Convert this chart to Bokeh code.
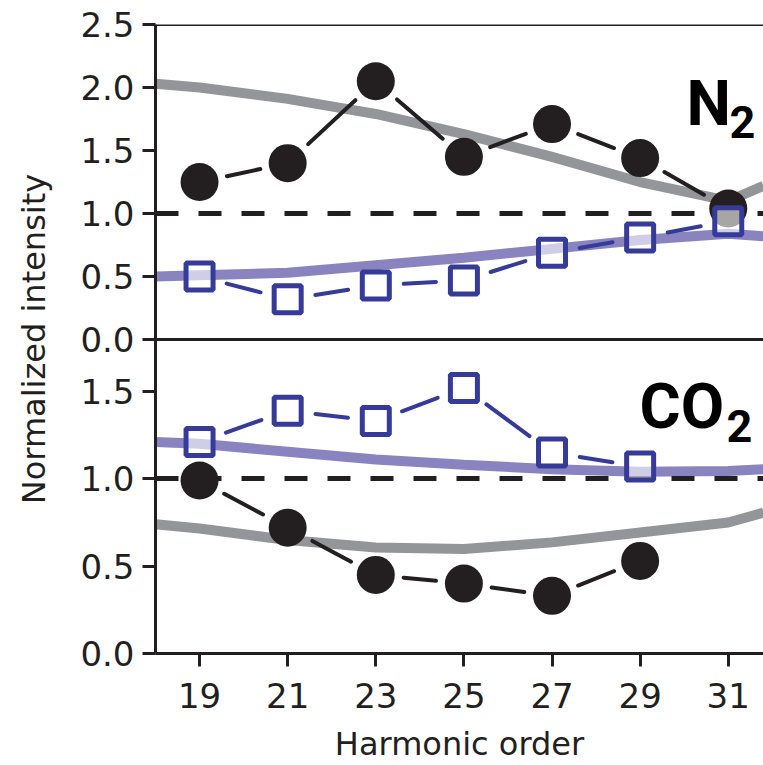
from math import hypot

from bokeh.plotting import figure
from bokeh.models import Range1d, FixedTicker, PrintfTickFormatter, LinearAxis, Label, ColumnDataSource
from bokeh.embed import file_html
from bokeh.resources import INLINE

# ---- data -----------------------------------------------------------------
harmonic_order = [19, 21, 23, 25, 27, 29, 31]
n2_parallel = [1.25, 1.40, 2.05, 1.45, 1.71, 1.44, 1.04]
n2_perpendicular = [0.50, 0.32, 0.43, 0.47, 0.69, 0.81, 0.94]

co2_order = [19, 21, 23, 25, 27, 29]
co2_parallel = [0.99, 0.72, 0.45, 0.40, 0.33, 0.53]
co2_perpendicular = [1.21, 1.39, 1.33, 1.52, 1.15, 1.07]

theory_order = [18, 19, 21, 23, 25, 27, 29, 31, 31.8]
n2_theory_parallel = [2.03, 2.00, 1.91, 1.79, 1.63, 1.45, 1.25, 1.10, 1.22]
n2_theory_perpendicular = [0.50, 0.51, 0.53, 0.59, 0.65, 0.72, 0.79, 0.84, 0.82]
co2_theory_parallel = [0.74, 0.715, 0.65, 0.607, 0.598, 0.636, 0.693, 0.75, 0.806]
co2_theory_perpendicular = [1.21, 1.20, 1.155, 1.11, 1.08, 1.055, 1.04, 1.045, 1.055]

reference_level = [1.0]
x_ticks = [19, 21, 23, 25, 27, 29, 31]
n2_y_ticks = [0.0, 0.5, 1.0, 1.5, 2.0, 2.5]
co2_y_ticks = [0.0, 0.5, 1.0, 1.5]

# ---- geometry / style -----------------------------------------------------
WIDTH, HEIGHT = 763, 765
BORDER_LEFT, BORDER_TOP, BORDER_BOTTOM = 155, 24, 108
FRAME_W = WIDTH - BORDER_LEFT
FRAME_H = HEIGHT - BORDER_TOP - BORDER_BOTTOM

X_START, X_END = 18.0, 31.8
N2_START, N2_END = -2.49, 2.5          # upper panel occupies 0 .. 2.5
CO2_START, CO2_END = 0.0, 3.6          # lower panel occupies 0 .. split

INK = "#231f20"
BLUE = "#363a98"
PURPLE = "#8984c0"
GRAY = "#939598"
FONT = "DejaVu Sans"

px_x = FRAME_W / (X_END - X_START)
px_n2 = FRAME_H / (N2_END - N2_START)
px_co2 = FRAME_H / (CO2_END - CO2_START)


def co2_on_main_axis(v):
    """Position of a CO2-panel value expressed on the main (N2) vertical range."""
    return N2_START + (v - CO2_START) / (CO2_END - CO2_START) * (N2_END - N2_START)


def gapped_segments(xs, ys, py, gap=28.0):
    """Connector segments between markers, trimmed by `gap` screen pixels at each end."""
    out = dict(x0=[], y0=[], x1=[], y1=[])
    for xa, ya, xb, yb in zip(xs[:-1], ys[:-1], xs[1:], ys[1:]):
        length = hypot((xb - xa) * px_x, (yb - ya) * py)
        f = gap / length
        out["x0"].append(xa + (xb - xa) * f)
        out["y0"].append(ya + (yb - ya) * f)
        out["x1"].append(xb - (xb - xa) * f)
        out["y1"].append(yb - (yb - ya) * f)
    return ColumnDataSource(out)


def style_axis(ax, tick_out=13):
    ax.axis_line_color = INK
    ax.axis_line_width = 3
    ax.major_tick_line_color = INK
    ax.major_tick_line_width = 3
    ax.major_tick_out = tick_out
    ax.major_tick_in = 0
    ax.minor_tick_out = 0
    ax.minor_tick_in = 0
    ax.major_label_text_font = FONT
    ax.major_label_text_font_size = "34px"
    ax.major_label_text_color = INK
    ax.axis_label_text_font = FONT
    ax.axis_label_text_font_size = "32px"
    ax.axis_label_text_font_style = "normal"
    ax.axis_label_text_color = INK


p = figure(
    width=WIDTH, height=HEIGHT,
    x_range=Range1d(X_START, X_END), y_range=Range1d(N2_START, N2_END),
    x_axis_type=None, y_axis_type=None,
    min_border_left=BORDER_LEFT, min_border_right=0,
    min_border_top=BORDER_TOP, min_border_bottom=BORDER_BOTTOM,
    toolbar_location=None, output_backend="svg",
    outline_line_color=None, background_fill_color="white",
)
p.extra_y_ranges = {"co2": Range1d(CO2_START, CO2_END)}

# ---- axes -----------------------------------------------------------------
# One vertical axis carries the ticks of both panels; the lower panel's ticks
# are placed through the CO2 range and labelled with their own values.
co2_tick_pos = [co2_on_main_axis(v) for v in co2_y_ticks]
y_axis = LinearAxis(
    ticker=FixedTicker(ticks=co2_tick_pos + n2_y_ticks),
    formatter=PrintfTickFormatter(format="%.1f"),
    major_label_overrides={pos: f"{v:.1f}" for pos, v in zip(co2_tick_pos, co2_y_ticks)},
    axis_label="Normalized intensity",
)
style_axis(y_axis)
y_axis.major_label_standoff = 8
y_axis.axis_label_standoff = 24
p.add_layout(y_axis, "left")

x_axis = LinearAxis(ticker=FixedTicker(ticks=x_ticks), axis_label="Harmonic order")
style_axis(x_axis)
x_axis.major_label_standoff = 16
x_axis.axis_label_standoff = 14
p.add_layout(x_axis, "below")

# panel separator and top frame edge
mid_line = LinearAxis(ticker=FixedTicker(ticks=[]), fixed_location=0)
style_axis(mid_line, tick_out=0)
p.add_layout(mid_line, "below")
top_line = LinearAxis(ticker=FixedTicker(ticks=[]), fixed_location=N2_END)
style_axis(top_line, tick_out=0)
p.add_layout(top_line, "above")

# ---- theory curves ----------------------------------------------------------
p.line(theory_order, n2_theory_parallel, line_color=GRAY, line_width=10)
p.line(theory_order, n2_theory_perpendicular, line_color=PURPLE, line_width=10)
p.line(theory_order, co2_theory_parallel, line_color=GRAY, line_width=10, y_range_name="co2")
p.line(theory_order, co2_theory_perpendicular, line_color=PURPLE, line_width=10, y_range_name="co2")

# ---- unity reference lines -----------------------------------------------------
p.hspan(y=reference_level, line_color=INK, line_width=5, line_dash="23 20")
p.hspan(y=reference_level, line_color=INK, line_width=5, line_dash="23 20", y_range_name="co2")

# ---- experiment: connectors ----------------------------------------------------
seg_kw = dict(x0="x0", y0="y0", x1="x1", y1="y1", line_width=4, line_cap="round")
p.segment(source=gapped_segments(harmonic_order, n2_parallel, px_n2), line_color=INK, **seg_kw)
p.segment(source=gapped_segments(harmonic_order, n2_perpendicular, px_n2), line_color=BLUE, **seg_kw)
p.segment(source=gapped_segments(co2_order, co2_parallel, px_co2), line_color=INK,
          y_range_name="co2", **seg_kw)
p.segment(source=gapped_segments(co2_order, co2_perpendicular, px_co2), line_color=BLUE,
          y_range_name="co2", **seg_kw)

# ---- experiment: markers -------------------------------------------------------
circle_kw = dict(marker="circle", size=38, fill_color=INK, line_color=None)
square_kw = dict(marker="square", size=27, fill_color="white", fill_alpha=0.6,
                 line_color=BLUE, line_width=5)
p.scatter(harmonic_order, n2_parallel, **circle_kw)
p.scatter(co2_order, co2_parallel, y_range_name="co2", **circle_kw)
p.scatter(harmonic_order, n2_perpendicular, **square_kw)
p.scatter(co2_order, co2_perpendicular, y_range_name="co2", **square_kw)

# ---- molecule labels -----------------------------------------------------------
lab_kw = dict(text_font="Roboto", text_font_style="bold", text_color="black",
              text_align="left", text_baseline="alphabetic")
p.add_layout(Label(x=30.05, y=1.877, text="N", text_font_size="63px", **lab_kw))
p.add_layout(Label(x=31.03, y=1.727, text="2", text_font_size="45px", **lab_kw))
p.add_layout(Label(x=28.985, y=1.416, text="CO", text_font_size="63px", y_range_name="co2", **lab_kw))
p.add_layout(Label(x=30.96, y=1.302, text="2", text_font_size="45px", y_range_name="co2", **lab_kw))

open("out.html", "w").write(file_html(p, INLINE))
